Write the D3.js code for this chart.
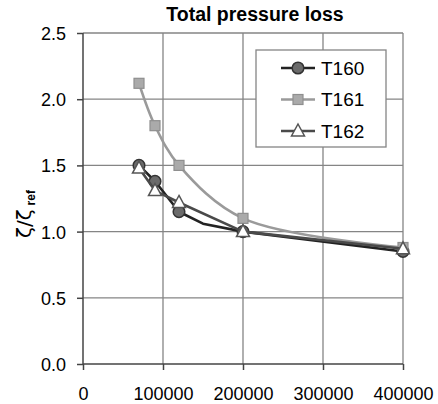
<!DOCTYPE html>
<html>
<head>
<meta charset="utf-8">
<script src="https://cdn.jsdelivr.net/npm/d3@7"></script>
<style>
  html, body { margin: 0; padding: 0; background: #fff; }
  svg { display: block; font-family: "Liberation Sans", Arial, sans-serif; }
</style>
</head>
<body>
<svg id="chart" width="438" height="404"></svg>
<script>
// Reynolds numbers and normalised total pressure loss per cascade
const reT160 = [70000, 90000, 120000, 150000, 200000, 400000];
const valT160 = [1.50, 1.38, 1.15, 1.06, 1.00, 0.85];
const plainT160 = [150000]; // line vertex with no marker

const reT161 = [70000, 90000, 120000, 200000, 400000];
const valT161 = [2.12, 1.80, 1.50, 1.10, 0.88];

const reT162 = [70000, 90000, 120000, 200000, 400000];
const valT162 = [1.48, 1.31, 1.22, 1.00, 0.87];

const seriesNames = ["T160", "T161", "T162"];
const xTicks = [0, 100000, 200000, 300000, 400000];
const yTicks = [0.0, 0.5, 1.0, 1.5, 2.0, 2.5];
const titleText = "Total pressure loss";

const svg = d3.select("#chart");
const plot = { left: 83, right: 403, top: 33, bottom: 364 };

const x = d3.scaleLinear().domain([0, 400000]).range([plot.left, plot.right]);
const y = d3.scaleLinear().domain([0, 2.5]).range([plot.bottom, plot.top]);

// grid
const grid = svg.append("g");
grid.selectAll("line.h").data(yTicks.filter(d => d > 0)).join("line")
  .attr("x1", plot.left).attr("x2", plot.right)
  .attr("y1", d => y(d)).attr("y2", d => y(d))
  .attr("stroke", "#858585").attr("stroke-width", 1.3);
grid.selectAll("line.v").data(xTicks.filter(d => d > 0)).join("line")
  .attr("y1", plot.top).attr("y2", plot.bottom)
  .attr("x1", d => x(d)).attr("x2", d => x(d))
  .attr("stroke", "#858585").attr("stroke-width", 1.3);

// axes
const yAxis = d3.axisLeft(y).tickValues(yTicks).tickFormat(d3.format(".1f"))
  .tickSize(6).tickPadding(11);
const xAxis = d3.axisBottom(x).tickValues(xTicks).tickFormat(d3.format("d"))
  .tickSize(6).tickPadding(17);

const gy = svg.append("g").attr("transform", `translate(${plot.left},0)`).call(yAxis);
const gx = svg.append("g").attr("transform", `translate(0,${plot.bottom})`).call(xAxis);
[gx, gy].forEach(g => {
  g.select(".domain").attr("stroke", "#444").attr("stroke-width", 1.5)
    .attr("d", g === gx ? `M${plot.left},0H${plot.right}` : `M0,${plot.bottom}V${plot.top}`);
  g.selectAll(".tick line").attr("stroke", "#444").attr("stroke-width", 1.5);
  g.selectAll(".tick text").attr("fill", "#000").style("font-size", "18px")
    .style("font-family", '"Liberation Sans", Arial, sans-serif');
});
gy.selectAll(".tick text").attr("dy", "0.36em");

// title
svg.append("text").attr("x", 255).attr("y", 21).attr("text-anchor", "middle")
  .style("font-size", "19.5px").style("font-weight", "bold").text(titleText);

// y axis label: zeta / zeta_ref
const yl = svg.append("text").attr("transform", "translate(31,214) rotate(-90)")
  .attr("text-anchor", "middle");
yl.append("tspan").style("font-size", "20px").style("font-family", '"DejaVu Sans", sans-serif')
  .text("ζ/ζ");
yl.append("tspan").attr("dx", 4).attr("dy", 4).style("font-size", "12px")
  .style("font-weight", "bold").text("ref");

// series styles
const styles = [
  { line: "#222", fill: "#6b6b6b", stroke: "#333", shape: "circle" },
  { line: "#9a9a9a", fill: "#aaaaaa", stroke: "#8f8f8f", shape: "square" },
  { line: "#4a4a4a", fill: "#ffffff", stroke: "#555", shape: "triangle" }
];
const seriesData = [
  { xs: reT160, ys: valT160, curve: d3.curveLinear },
  { xs: reT161, ys: valT161, curve: d3.curveCatmullRom.alpha(0.5) },
  { xs: reT162, ys: valT162, curve: d3.curveLinear }
];

function drawMarker(g, shape, cx, cy, st) {
  if (shape === "circle") {
    g.append("circle").attr("cx", cx).attr("cy", cy).attr("r", 5.8)
      .attr("fill", st.fill).attr("stroke", st.stroke).attr("stroke-width", 1.5);
  } else if (shape === "square") {
    g.append("rect").attr("x", cx - 5).attr("y", cy - 5).attr("width", 10).attr("height", 10)
      .attr("fill", st.fill).attr("stroke", st.stroke).attr("stroke-width", 1.2);
  } else {
    g.append("path").attr("d", `M${cx},${cy - 7}L${cx + 6.5},${cy + 5}L${cx - 6.5},${cy + 5}Z`)
      .attr("fill", st.fill).attr("stroke", st.stroke).attr("stroke-width", 1.5);
  }
}

const marks = svg.append("g");
seriesData.forEach((s, i) => {
  const pts = s.xs.map((xv, j) => [xv, s.ys[j]]);
  const line = d3.line().x(d => x(d[0])).y(d => y(d[1])).curve(s.curve);
  marks.append("path").attr("d", line(pts)).attr("fill", "none")
    .attr("stroke", styles[i].line).attr("stroke-width", 2.6).attr("stroke-linejoin", "round");
  pts.filter(d => !(i === 0 && plainT160.includes(d[0])))
    .forEach(d => drawMarker(marks, styles[i].shape, x(d[0]), y(d[1]), styles[i]));
});

// legend
const lg = svg.append("g");
lg.append("rect").attr("x", 256).attr("y", 50).attr("width", 130).attr("height", 97)
  .attr("fill", "#fff").attr("stroke", "#858585").attr("stroke-width", 1.3);
seriesNames.forEach((name, i) => {
  const ly = 68 + i * 31.5;
  lg.append("line").attr("x1", 281).attr("x2", 315).attr("y1", ly).attr("y2", ly)
    .attr("stroke", styles[i].line).attr("stroke-width", 2.6);
  drawMarker(lg, styles[i].shape, 298, ly, styles[i]);
  lg.append("text").attr("x", 321).attr("y", ly).attr("dy", "0.36em")
    .style("font-size", "19px").text(name);
});
</script>
</body>
</html>
